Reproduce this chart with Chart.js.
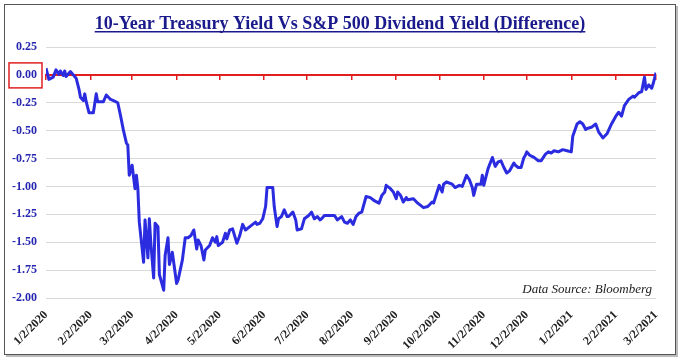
<!DOCTYPE html>
<html>
<head>
<meta charset="utf-8">
<script src="https://cdn.jsdelivr.net/npm/chart.js@4.4.1/dist/chart.umd.min.js"></script>
<style>
  body { margin: 0; background: #fff; }
  #wrap { position: relative; width: 680px; height: 360px; }
  #frame { position: absolute; left: 4px; top: 4px; width: 670px; height: 349px; border: 1px solid #555; box-shadow: 2px 2px 0 #bbb; pointer-events: none; }
</style>
</head>
<body>
<div id="wrap">
  <canvas id="spreadChart" width="680" height="360"></canvas>
  <div id="frame"></div>
</div>
<script>
// month tick labels and their day offsets (days since 1/2/2020)
const monthLabels = ["1/2/2020", "2/2/2020", "3/2/2020", "4/2/2020", "5/2/2020", "6/2/2020", "7/2/2020", "8/2/2020", "9/2/2020", "10/2/2020", "11/2/2020", "12/2/2020", "1/2/2021", "2/2/2021", "3/2/2021"];
const monthDays = [0, 31, 60, 91, 121, 152, 182, 213, 244, 274, 305, 335, 366, 397, 425];

const yTicks = [0.25, 0, -0.25, -0.5, -0.75, -1, -1.25, -1.5, -1.75, -2];

// days since 1/2/2020
const days = [0, 2, 5, 7, 9, 10, 12, 13, 14, 17, 19, 21, 23, 24, 26, 27, 28, 30, 33, 35,
  36, 40, 42, 45, 47, 50, 52, 54, 56, 57, 58, 60, 62, 63, 64, 65, 68, 69, 71, 72,
  73, 75, 76, 78, 79, 82, 83, 85, 86, 88, 91, 92, 95, 97, 99, 101, 103, 105, 106, 108,
  110, 111, 114, 116, 118, 119, 120, 123, 125, 126, 128, 130, 133, 135, 137, 139, 142, 146, 147, 149,
  151, 153, 154, 158, 159, 161, 162, 164, 166, 168, 169, 172, 174, 175, 178, 180, 183, 185, 187, 189,
  191, 192, 194, 198, 201, 203, 206, 208, 210, 212, 214, 216, 218, 220, 223, 226, 229, 232, 234, 236,
  237, 240, 242, 244, 245, 247, 249, 251, 252, 256, 259, 263, 266, 269, 270, 272, 274, 276, 277, 279,
  283, 285, 288, 290, 293, 295, 297, 298, 300, 303, 304, 305, 308, 311, 313, 315, 317, 319, 321, 323,
  326, 327, 329, 331, 333, 334, 335, 337, 340, 343, 345, 348, 350, 352, 354, 357, 360, 363, 366, 367,
  370, 372, 374, 376, 377, 380, 383, 385, 388, 391, 394, 397, 399, 401, 403, 406, 409, 410, 413, 415,
  417, 418, 420, 422, 423, 425];

// 10y treasury yield minus S&P 500 dividend yield
const spread = [0.06, -0.04, -0.02, 0.045, 0.005, 0.035, -0.005, 0.035, -0.015, 0.03, 0.0, -0.03, -0.13, -0.20, -0.23, -0.17, -0.24, -0.34, -0.34, -0.17,
  -0.24, -0.24, -0.18, -0.22, -0.23, -0.25, -0.37, -0.50, -0.61, -0.63, -0.90, -0.81, -1.02, -0.90, -1.02, -1.32, -1.68, -1.30, -1.64, -1.29,
  -1.50, -1.82, -1.33, -1.36, -1.79, -1.93, -1.62, -1.46, -1.70, -1.59, -1.87, -1.84, -1.66, -1.46, -1.46, -1.44, -1.39, -1.56, -1.48, -1.53,
  -1.66, -1.57, -1.53, -1.46, -1.50, -1.45, -1.53, -1.50, -1.42, -1.47, -1.39, -1.38, -1.51, -1.44, -1.34, -1.39, -1.36, -1.32, -1.34, -1.33,
  -1.29, -1.18, -1.01, -1.01, -1.18, -1.36, -1.29, -1.27, -1.21, -1.27, -1.27, -1.23, -1.30, -1.39, -1.38, -1.29, -1.26, -1.23, -1.29, -1.27,
  -1.30, -1.29, -1.26, -1.26, -1.26, -1.30, -1.27, -1.32, -1.33, -1.30, -1.34, -1.27, -1.24, -1.23, -1.09, -1.10, -1.13, -1.15, -1.08, -1.05,
  -0.99, -1.02, -1.05, -1.11, -1.05, -1.08, -1.14, -1.10, -1.12, -1.11, -1.15, -1.19, -1.18, -1.14, -1.15, -1.07, -0.99, -1.05, -0.98, -0.96,
  -0.98, -1.01, -0.99, -1.00, -0.90, -0.94, -1.01, -1.08, -0.98, -0.98, -0.90, -0.99, -0.84, -0.74, -0.82, -0.78, -0.77, -0.83, -0.88, -0.86,
  -0.79, -0.81, -0.83, -0.83, -0.74, -0.72, -0.69, -0.72, -0.74, -0.77, -0.77, -0.71, -0.69, -0.70, -0.68, -0.69, -0.67, -0.68, -0.69, -0.55,
  -0.44, -0.42, -0.44, -0.49, -0.48, -0.47, -0.44, -0.51, -0.565, -0.525, -0.44, -0.37, -0.335, -0.37, -0.275, -0.22, -0.19, -0.20, -0.16, -0.15,
  -0.02, -0.13, -0.09, -0.12, -0.08, 0.02];

const points = days.map((d, i) => ({ x: d, y: spread[i] }));

const serif = "'Liberation Serif', 'Times New Roman', serif";

function monthTicks(axis) {
  axis.ticks = monthDays.map(d => ({ value: d }));
}

const decorations = {
  id: "decorations",
  afterDraw(chart) {
    const ctx = chart.ctx;
    const area = chart.chartArea;
    const yScale = chart.scales.y;
    ctx.save();

    // title with underline
    const title = "10-Year Treasury Yield Vs S&P 500 Dividend Yield (Difference)";
    ctx.font = "bold 18px " + serif;
    ctx.fillStyle = "#1a1a8c";
    ctx.textAlign = "center";
    ctx.textBaseline = "alphabetic";
    const cx = chart.width / 2;
    ctx.fillText(title, cx, 29);
    const w = ctx.measureText(title).width;
    ctx.fillRect(cx - w / 2, 31, w, 1.5);

    // source note
    ctx.font = "italic 13px " + serif;
    ctx.fillStyle = "#222";
    ctx.textAlign = "right";
    ctx.fillText("Data Source: Bloomberg", area.right - 4, yScale.getPixelForValue(-2) - 5);

    // red box around the zero label
    const y0 = yScale.getPixelForValue(0);
    ctx.strokeStyle = "#e02020";
    ctx.lineWidth = 1.5;
    ctx.strokeRect(9, y0 - 12, 33, 25);
    ctx.restore();
  }
};

new Chart(document.getElementById("spreadChart"), {
  type: "line",
  data: {
    datasets: [{
      label: "Difference",
      data: points,
      borderColor: "#2b2be0",
      borderWidth: 3,
      pointRadius: 0,
      tension: 0,
      borderJoinStyle: "round",
      fill: false
    }]
  },
  options: {
    responsive: false,
    animation: false,
    layout: { padding: { top: 47, right: 24, bottom: 0, left: 0 } },
    plugins: {
      legend: { display: false },
      tooltip: { enabled: false }
    },
    scales: {
      x: {
        type: "linear",
        position: "bottom",
        min: 0,
        max: 425,
        afterBuildTicks: monthTicks,
        afterFit: axis => { axis.height = 62; },
        grid: { display: false, drawTicks: false },
        border: { display: false },
        ticks: {
          autoSkip: false,
          minRotation: 45,
          maxRotation: 45,
          padding: 10,
          color: "#222",
          font: { family: serif, weight: "bold", size: 12 },
          callback: (v, i) => monthLabels[i]
        }
      },
      zero: {
        type: "linear",
        axis: "x",
        position: { y: 0 },
        min: 0,
        max: 425,
        afterBuildTicks: monthTicks,
        ticks: { display: false },
        grid: { drawOnChartArea: false, drawTicks: true, tickLength: 4, color: "#e02020", lineWidth: 1.5 },
        border: { color: "#e02020", width: 2 }
      },
      y: {
        min: -2,
        max: 0.25,
        afterBuildTicks: axis => { axis.ticks = yTicks.map(v => ({ value: v })); },
        afterFit: axis => { axis.width = 46; },
        grid: { color: "#d9d9d9", drawTicks: false },
        border: { display: false },
        ticks: {
          padding: 9,
          color: "#2626b0",
          font: { family: serif, weight: "bold", size: 12 },
          callback: v => v.toFixed(2)
        }
      }
    }
  },
  plugins: [decorations]
});
</script>
</body>
</html>
